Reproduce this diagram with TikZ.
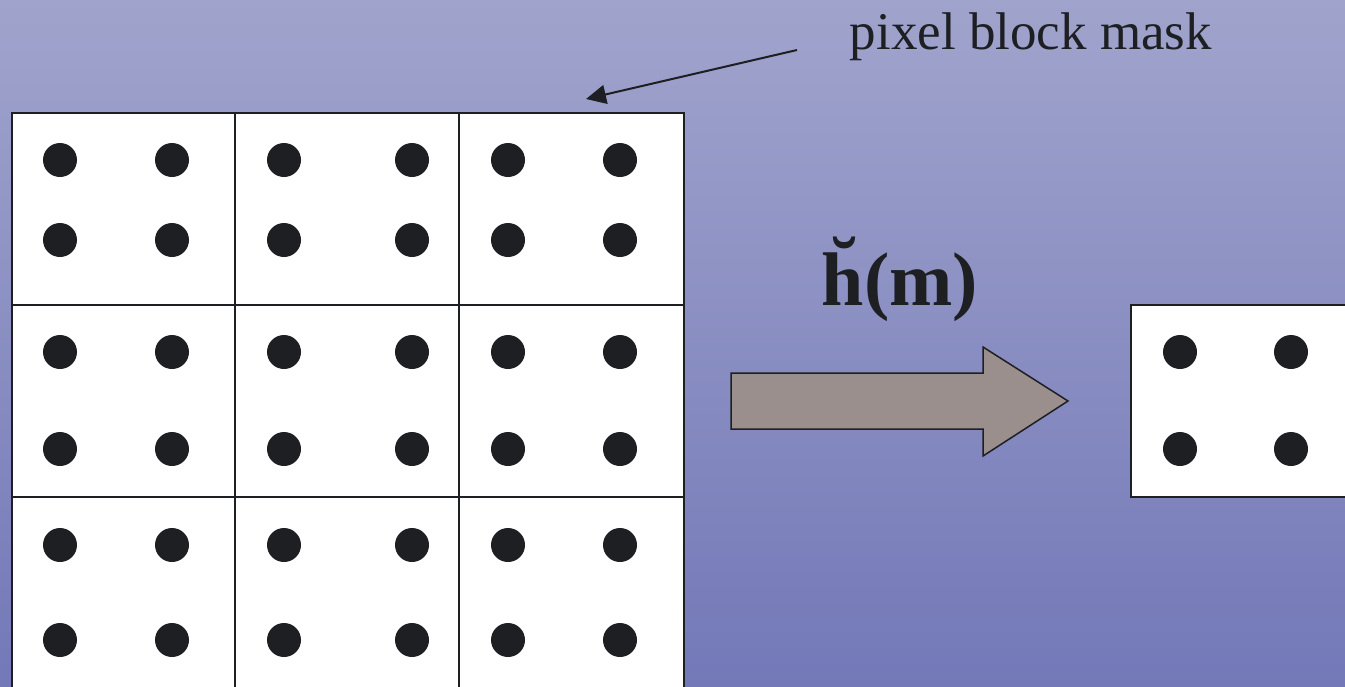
\documentclass[tikz,border=0pt]{standalone}
\usepackage{fontspec}
\setmainfont{Liberation Serif}
\usetikzlibrary{arrows.meta,positioning,calc}
\definecolor{SlideTop}{HTML}{A0A4CC}
\definecolor{SlideBottom}{HTML}{7378B8}
\definecolor{DotInk}{HTML}{1E1F23}
\definecolor{ArrowTaupe}{HTML}{9B8F8E}
\tikzset{
  cellbox/.style={draw=DotInk,line width=1.3pt,fill=white},
  pixdot/.style={fill=DotInk},
}
\begin{document}
\begin{tikzpicture}[x=1pt,y=-1pt]
\useasboundingbox (0,0) rectangle (1345,686);
\shade[top color=SlideTop,bottom color=SlideBottom] (0,0) rectangle (1345,686);
% 3x3 block mask
\foreach \cx/\nx in {12/235,235/459,459/684} {
  \foreach \cy/\ny in {113/305,305/497,497/700} {
    \draw[cellbox] (\cx,\cy) rectangle (\nx,\ny);
  }
}
\foreach \px in {60,172,284,412,508,620} {
  \foreach \py in {160,240,352,449,545,640} {
    \fill[pixdot] (\px,\py) circle (17);
  }
}
% reduced block
\draw[cellbox] (1131,305) rectangle (1360,497);
\foreach \px in {1180,1291} {
  \foreach \py in {352,449} {
    \fill[pixdot] (\px,\py) circle (17);
  }
}
% mapping arrow
\draw[fill=ArrowTaupe,draw=DotInk,line width=1.5pt,line join=miter]
  (731,373) -- (983,373) -- (983,347) -- (1068,401) -- (983,456)
  -- (983,429) -- (731,429) -- cycle;
\node[anchor=base,font=\fontsize{76}{80}\selectfont\bfseries,text=DotInk]
  (maplabel) at (900,305) {\u{h}(m)};
% mask label
\node[anchor=base,font=\fontsize{53}{60}\selectfont,text=DotInk]
  (masklabel) at (1031,49) {pixel block mask};
\coordinate (maskfrom) at (797,50);
\coordinate (maskto) at (586,99);
\draw[-{Triangle[length=20pt,width=19pt]},line width=2pt,draw=DotInk]
  (maskfrom) -- (maskto);
\end{tikzpicture}
\end{document}
